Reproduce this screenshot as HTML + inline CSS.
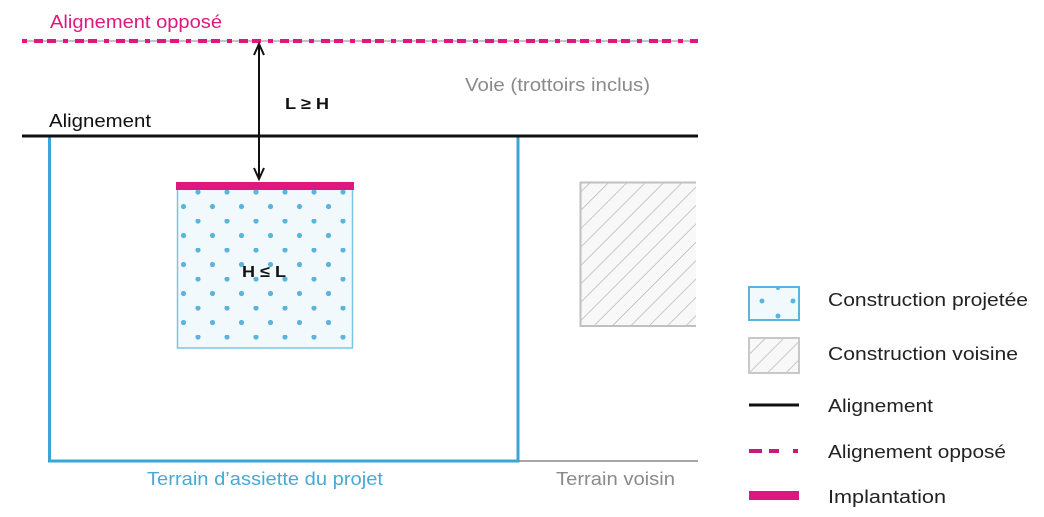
<!DOCTYPE html>
<html><head><meta charset="utf-8"><style>
html,body{margin:0;padding:0;background:#fff;}
svg{display:block;}
text{font-family:"Liberation Sans",sans-serif;}
</style></head><body>
<svg width="1044" height="517" viewBox="0 0 1044 517" xmlns="http://www.w3.org/2000/svg">
<defs>
<pattern id="dots" x="177" y="190" width="29" height="29" patternUnits="userSpaceOnUse">
<circle cx="21" cy="2" r="2.6" fill="#5bb4dc"/>
<circle cx="6.5" cy="16.5" r="2.6" fill="#5bb4dc"/>
</pattern>
<pattern id="hatch" width="13" height="13" patternUnits="userSpaceOnUse" patternTransform="rotate(45)">
<line x1="0" y1="0" x2="0" y2="13" stroke="#b8b8b8" stroke-width="1.5"/>
</pattern>
</defs>
<line x1="22" y1="41" x2="698" y2="41" stroke="#888" stroke-width="1"/>
<line x1="22" y1="41" x2="698" y2="41" stroke="#e0177f" stroke-width="4" stroke-dasharray="5 7 9 4 9 7 5 7 9 4 9 7"/>
<text x="50" y="28" font-size="18" fill="#e0177f" textLength="172" lengthAdjust="spacingAndGlyphs">Alignement opposé</text>
<text x="465" y="91" font-size="18" fill="#8a8a8a" textLength="185" lengthAdjust="spacingAndGlyphs">Voie (trottoirs inclus)</text>
<text x="49" y="127" font-size="18" fill="#111" textLength="102" lengthAdjust="spacingAndGlyphs">Alignement</text>
<text x="285" y="109" font-size="16" font-weight="bold" fill="#111" textLength="44" lengthAdjust="spacingAndGlyphs">L ≥ H</text>
<rect x="49.5" y="136" width="468.5" height="325" fill="none" stroke="#3aa6d6" stroke-width="3"/>
<line x1="518" y1="461" x2="698" y2="461" stroke="#888" stroke-width="1.5"/>
<line x1="22" y1="136" x2="698" y2="136" stroke="#111" stroke-width="3"/>
<rect x="177.5" y="186" width="175" height="162" fill="#f2f9fd" stroke="#7cc4e4" stroke-width="1.5"/>
<rect x="177.5" y="186" width="175" height="162" fill="url(#dots)"/>
<rect x="176" y="182" width="178" height="8" fill="#e0177f"/>
<text x="242" y="277" font-size="16" font-weight="bold" fill="#111" textLength="44" lengthAdjust="spacingAndGlyphs">H ≤ L</text>
<line x1="259" y1="45" x2="259" y2="178" stroke="#111" stroke-width="2"/>
<polyline points="254,55 259,44 264,55" fill="none" stroke="#111" stroke-width="2"/>
<polyline points="254,168 259,179 264,168" fill="none" stroke="#111" stroke-width="2"/>
<rect x="580" y="182.5" width="116" height="144" fill="#f8f8f8"/>
<rect x="580" y="182.5" width="116" height="144" fill="url(#hatch)"/>
<polyline points="696,182.5 580.5,182.5 580.5,326 696,326" fill="none" stroke="#c0c0c0" stroke-width="2"/>
<text x="147" y="485" font-size="18" fill="#4aa8d4" textLength="236" lengthAdjust="spacingAndGlyphs">Terrain d’assiette du projet</text>
<text x="556" y="485" font-size="18" fill="#8a8a8a" textLength="119" lengthAdjust="spacingAndGlyphs">Terrain voisin</text>
<rect x="749" y="287" width="50" height="33" fill="#f2f9fd" stroke="#5bb4dc" stroke-width="2"/>
<circle cx="762" cy="301" r="2.5" fill="#5bb4dc"/><circle cx="793" cy="301" r="2.5" fill="#5bb4dc"/>
<circle cx="778" cy="316" r="2.5" fill="#5bb4dc"/><circle cx="778" cy="288" r="2" fill="#5bb4dc"/>
<rect x="749" y="338" width="50" height="35" fill="#f8f8f8"/>
<rect x="749" y="338" width="50" height="35" fill="url(#hatch)"/>
<rect x="749" y="338" width="50" height="35" fill="none" stroke="#c8c8c8" stroke-width="2"/>
<line x1="749" y1="405" x2="799" y2="405" stroke="#111" stroke-width="3"/>
<line x1="749" y1="451" x2="799" y2="451" stroke="#c81a7a" stroke-width="4" stroke-dasharray="13 7 10 14 5"/>
<rect x="749" y="491" width="50" height="9" fill="#e0177f"/>
<text x="828" y="306" font-size="18" fill="#222" textLength="200" lengthAdjust="spacingAndGlyphs">Construction projetée</text>
<text x="828" y="360" font-size="18" fill="#222" textLength="190" lengthAdjust="spacingAndGlyphs">Construction voisine</text>
<text x="828" y="412" font-size="18" fill="#222" textLength="105" lengthAdjust="spacingAndGlyphs">Alignement</text>
<text x="828" y="458" font-size="18" fill="#222" textLength="178" lengthAdjust="spacingAndGlyphs">Alignement opposé</text>
<text x="828" y="503" font-size="18" fill="#222" textLength="118" lengthAdjust="spacingAndGlyphs">Implantation</text>
</svg>
</body></html>
